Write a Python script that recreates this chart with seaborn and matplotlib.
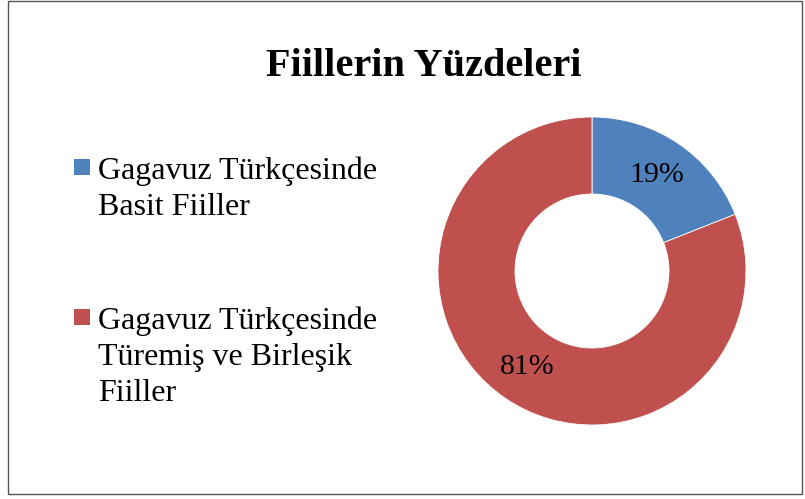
import matplotlib.pyplot as plt
import seaborn as sns
from matplotlib.patches import Rectangle

# data
categories = ['Gagavuz Türkçesinde\nBasit Fiiller',
              'Gagavuz Türkçesinde\nTüremiş ve Birleşik\nFiiller']
shares = [19, 81]
colors = ['#4F81BD', '#C0504D']
title = 'Fiillerin Yüzdeleri'

sns.set_style('white')
plt.rcParams['font.family'] = ['Liberation Serif', 'DejaVu Serif']
plt.rcParams['text.color'] = 'black'

W, H = 805, 499
fig = plt.figure(figsize=(W / 100, H / 100), dpi=100)

# outer frame
fig.patches.append(Rectangle((8 / W, 1 - 494 / H), 794 / W, 493 / H,
                             transform=fig.transFigure, fill=False,
                             edgecolor='#555555', linewidth=1.0))

# donut
cx, cy, r = 592, 271, 154
ax = fig.add_axes([(cx - r) / W, 1 - (cy + r) / H, 2 * r / W, 2 * r / H])
wedges, _, autotexts = ax.pie(shares, colors=colors, startangle=90, counterclock=False,
                              autopct='%d%%', pctdistance=0.75, radius=1,
                              wedgeprops=dict(width=0.5, edgecolor='white', linewidth=0.6),
                              textprops=dict(fontsize=21.5, color='black'))
ax.set_xlim(-1, 1)
ax.set_ylim(-1, 1)
ax.set_aspect('equal')
ax.axis('off')

fig.text(424 / W, 1 - 67 / H, title, ha='center', va='center',
         fontsize=29, fontweight='bold', color='black')

# legend drawn by hand so the marker sits on the first line
tops = [157, 307]
marks = [159, 309]
for lab, col, top, m in zip(categories, colors, tops, marks):
    fig.patches.append(Rectangle((74 / W, 1 - (m + 16) / H), 16 / W, 16 / H,
                                 transform=fig.transFigure, facecolor=col,
                                 edgecolor='none'))
    fig.text(98 / W, 1 - top / H, lab, ha='left', va='top', fontsize=23,
             linespacing=1.3, color='black')

fig.savefig('out.png', dpi=100)
